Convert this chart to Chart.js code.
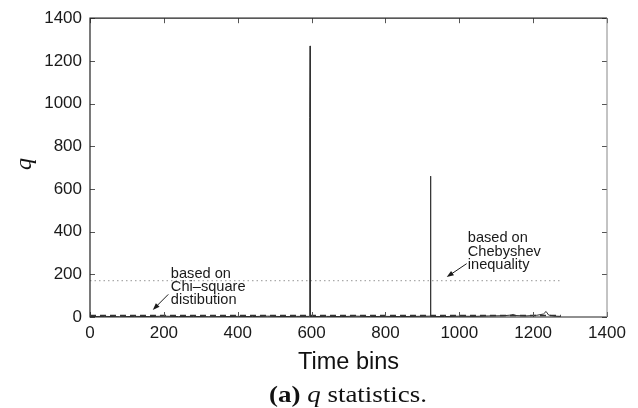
<!DOCTYPE html>
<html>
<head>
<meta charset="utf-8">
<script src="https://cdn.jsdelivr.net/npm/chart.js@4.4.1/dist/chart.umd.min.js"></script>
<style>
  body { margin:0; background:#fff; }
  canvas { display:block; }
</style>
</head>
<body>
<canvas id="qChart" width="638" height="408"></canvas>
<script>
// q statistic per time bin (mostly near zero)
const timeBins = [0, 40, 80, 120, 160, 200, 240, 280, 320, 360, 400, 440, 480, 520, 560, 594, 595, 596, 597, 640, 680, 720, 760, 800, 840, 880, 921, 922, 923, 960, 1000, 1040, 1080, 1120, 1140, 1146, 1152, 1180, 1210, 1228, 1235, 1242, 1260, 1275];
const qValues  = [2, 3, 1, 3, 2, 4, 2, 3, 1, 2, 3, 2, 4, 2, 3, 3, 935, 1270, 2, 3, 2, 4, 2, 3, 2, 3, 4, 660, 3, 2, 4, 3, 5, 6, 9, 12, 7, 5, 8, 14, 26, 9, 4, 3];

// thresholds
const thresholdRange = [0, 1275];
const chiSquareLevel = 7;
const chebyshevLevel = 170;

const xTicks = [0, 200, 400, 600, 800, 1000, 1200, 1400];
const yTicks = [0, 200, 400, 600, 800, 1000, 1200, 1400];

// annotation anchors in data units
const chiNote = { text:["based on","Chi\u2013square","distibution"], at:[219, 203], tail:[212, 106], head:[170, 33] };
const chebNote = { text:["based on","Chebyshev","inequality"], at:[1023, 369], tail:[1020, 250], head:[966, 187] };

const qPoints = timeBins.map((x,i)=>({x:x, y:qValues[i]}));
const chiLine = thresholdRange.map(x=>({x:x, y:chiSquareLevel}));
const chebLine = thresholdRange.map(x=>({x:x, y:chebyshevLevel}));

function drawNote(ctx, xs, ys, note){
  ctx.save();
  ctx.fillStyle = "#1a1a1a";
  ctx.font = "14.6px 'Liberation Sans', Arial, sans-serif";
  ctx.textBaseline = "middle";
  const x0 = xs.getPixelForValue(note.at[0]);
  const y0 = ys.getPixelForValue(note.at[1]);
  note.text.forEach((t,i)=> ctx.fillText(t, x0, y0 + i*13.3));
  // arrow
  const tx = xs.getPixelForValue(note.tail[0]), ty = ys.getPixelForValue(note.tail[1]);
  const hx = xs.getPixelForValue(note.head[0]), hy = ys.getPixelForValue(note.head[1]);
  const ang = Math.atan2(hy-ty, hx-tx);
  ctx.strokeStyle = "#1a1a1a"; ctx.lineWidth = 1;
  ctx.beginPath(); ctx.moveTo(tx,ty); ctx.lineTo(hx - 5*Math.cos(ang), hy - 5*Math.sin(ang)); ctx.stroke();
  ctx.beginPath();
  ctx.moveTo(hx,hy);
  ctx.lineTo(hx - 7*Math.cos(ang) + 2.6*Math.sin(ang), hy - 7*Math.sin(ang) - 2.6*Math.cos(ang));
  ctx.lineTo(hx - 7*Math.cos(ang) - 2.6*Math.sin(ang), hy - 7*Math.sin(ang) + 2.6*Math.cos(ang));
  ctx.closePath(); ctx.fill();
  ctx.restore();
}

const framePlugin = {
  id: "frame",
  afterDraw(chart){
    const {ctx, chartArea:a, scales:{x, y}} = chart;
    ctx.save();
    // inward ticks on all four sides
    ctx.strokeStyle = "#555"; ctx.lineWidth = 1;
    ctx.beginPath();
    xTicks.forEach(v=>{
      const px = Math.round(x.getPixelForValue(v)) + 0.5;
      ctx.moveTo(px, a.bottom); ctx.lineTo(px, a.bottom-5);
      ctx.moveTo(px, a.top); ctx.lineTo(px, a.top+5);
    });
    yTicks.forEach(v=>{
      const py = Math.round(y.getPixelForValue(v)) + 0.5;
      ctx.moveTo(a.left, py); ctx.lineTo(a.left+5, py);
      ctx.moveTo(a.right, py); ctx.lineTo(a.right-5, py);
    });
    ctx.stroke();
    // box
    ctx.strokeStyle = "#222"; ctx.lineWidth = 1.2;
    ctx.beginPath();
    ctx.moveTo(a.right, a.top); ctx.lineTo(a.left, a.top); ctx.lineTo(a.left, a.bottom); ctx.lineTo(a.right, a.bottom);
    ctx.stroke();
    ctx.strokeStyle = "#888"; ctx.lineWidth = 1;
    ctx.beginPath(); ctx.moveTo(a.right, a.top); ctx.lineTo(a.right, a.bottom); ctx.stroke();

    drawNote(ctx, x, y, chiNote);
    drawNote(ctx, x, y, chebNote);

    // axis titles
    ctx.fillStyle = "#111";
    ctx.textAlign = "center"; ctx.textBaseline = "middle";
    ctx.font = "23.5px 'Liberation Sans', Arial, sans-serif";
    ctx.fillText("Time bins", 348.5, 363);
    ctx.save();
    ctx.translate(25, 164); ctx.rotate(-Math.PI/2);
    ctx.font = "italic 24px 'Liberation Serif', 'DejaVu Serif', serif";
    ctx.fillText("q", 0, 0);
    ctx.restore();

    // caption: (a) q statistics.
    const parts = [
      ["bold 23px 'Liberation Serif', serif", "(a) "],
      ["italic 23px 'Liberation Serif', serif", "q"],
      ["23px 'Liberation Serif', serif", " statistics."]
    ];
    let total = 0;
    parts.forEach(p=>{ ctx.font = p[0]; total += ctx.measureText(p[1]).width; });
    const sx = 158 / total;
    ctx.save();
    ctx.translate(348 - 79, 396);
    ctx.scale(sx, 1);
    let cx = 0;
    ctx.textAlign = "left"; ctx.textBaseline = "middle";
    parts.forEach(p=>{ ctx.font = p[0]; ctx.fillText(p[1], cx, 0); cx += ctx.measureText(p[1]).width; });
    ctx.restore();
    ctx.restore();
  }
};

const tickFont = { family:"'Liberation Sans', Arial, sans-serif", size:17 };

new Chart(document.getElementById("qChart"), {
  type: "line",
  data: {
    datasets: [
      { data:qPoints, borderColor:"#333", borderWidth:1, pointRadius:0, tension:0 },
      { data:chiLine, borderColor:"#333", borderWidth:1.5, borderDash:[6,4], pointRadius:0 },
      { data:chebLine, borderColor:"#aaa", borderWidth:1.2, borderDash:[1.5,3], pointRadius:0 }
    ]
  },
  options: {
    responsive:false,
    animation:false,
    layout:{ padding:{ left:0, right:31, top:16, bottom:0 } },
    plugins:{ legend:{ display:false }, tooltip:{ enabled:false } },
    scales:{
      x:{
        type:"linear", min:0, max:1400,
        afterFit(s){ s.height = 91; },
        afterBuildTicks(s){ s.ticks = xTicks.map(v=>({value:v})); },
        grid:{ display:false, drawTicks:false },
        border:{ display:false },
        ticks:{ color:"#1a1a1a", font:tickFont, padding:6, maxRotation:0, autoSkip:false, callback:v=>String(v) }
      },
      y:{
        type:"linear", min:0, max:1400,
        afterFit(s){ s.width = 90; },
        afterBuildTicks(s){ s.ticks = yTicks.map(v=>({value:v})); },
        grid:{ display:false, drawTicks:false },
        border:{ display:false },
        ticks:{ color:"#1a1a1a", font:tickFont, padding:8, autoSkip:false, callback:v=>String(v) }
      }
    }
  },
  plugins:[framePlugin]
});
</script>
</body>
</html>
